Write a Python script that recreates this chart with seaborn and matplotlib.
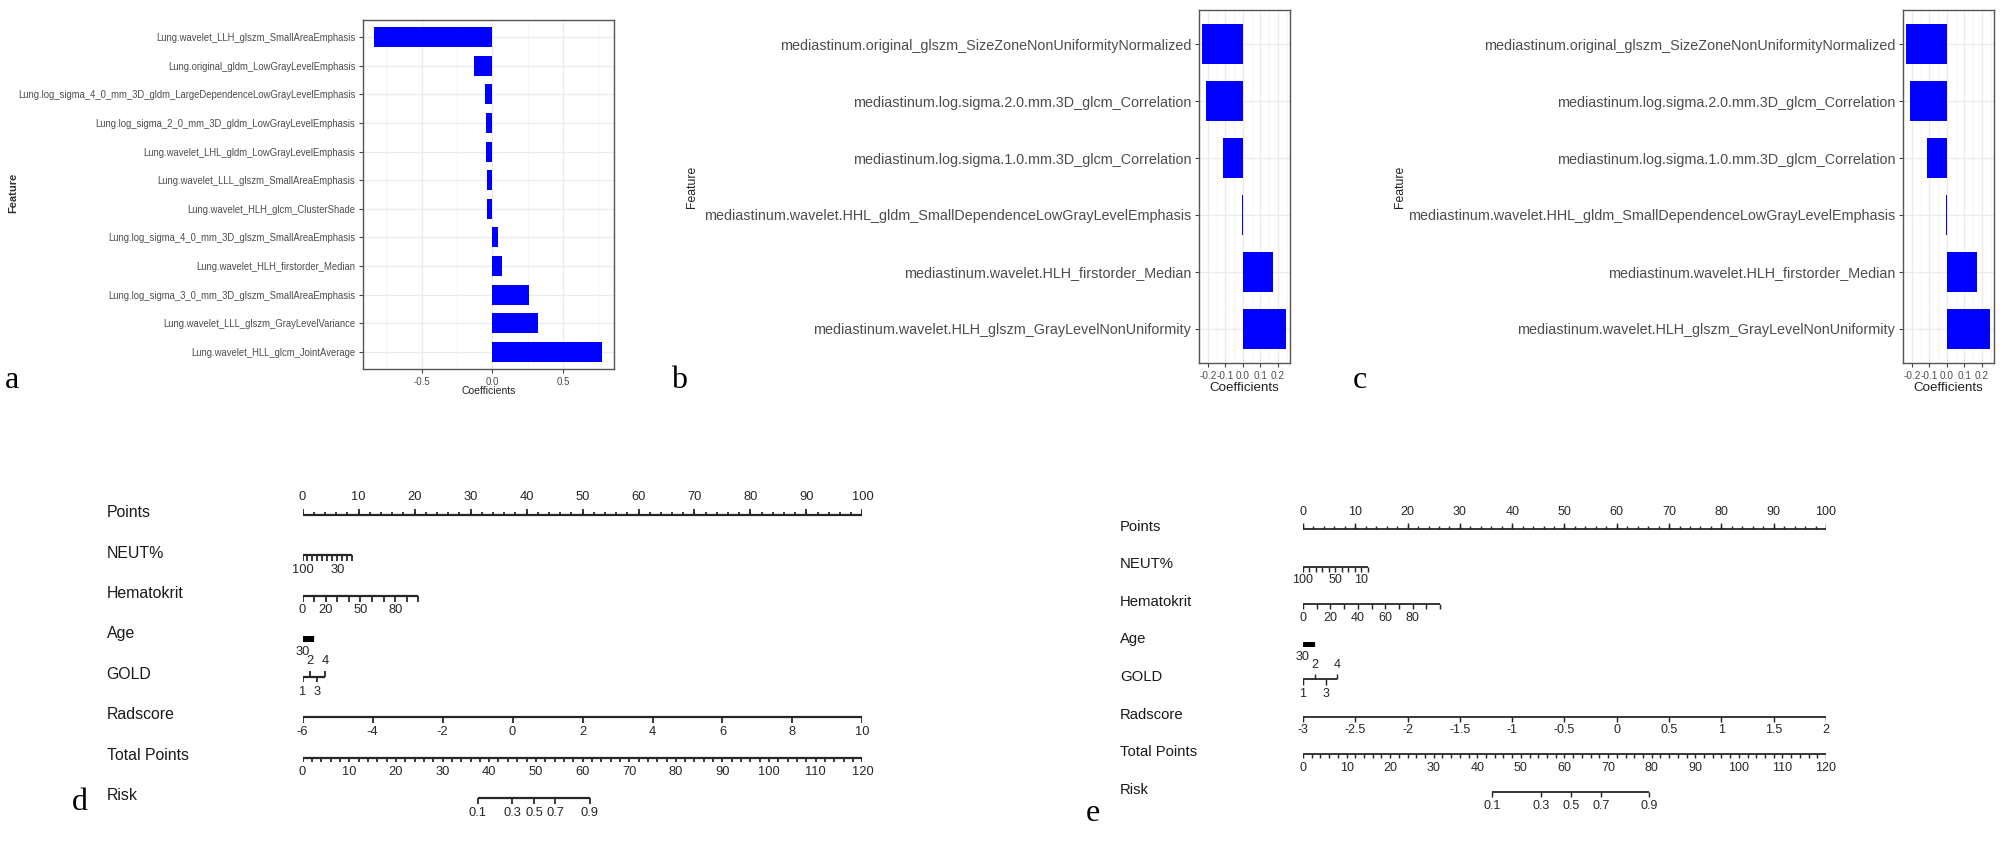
import numpy as np
import matplotlib
matplotlib.use("Agg")
import matplotlib.pyplot as plt
import matplotlib.transforms as mtrans
from matplotlib.ticker import FixedLocator
from matplotlib import font_manager
import seaborn as sns

# ---------------- panel a : lung features ----------------
lung_features = [
    "Lung.wavelet_LLH_glszm_SmallAreaEmphasis",
    "Lung.original_gldm_LowGrayLevelEmphasis",
    "Lung.log_sigma_4_0_mm_3D_gldm_LargeDependenceLowGrayLevelEmphasis",
    "Lung.log_sigma_2_0_mm_3D_gldm_LowGrayLevelEmphasis",
    "Lung.wavelet_LHL_gldm_LowGrayLevelEmphasis",
    "Lung.wavelet_LLL_glszm_SmallAreaEmphasis",
    "Lung.wavelet_HLH_glcm_ClusterShade",
    "Lung.log_sigma_4_0_mm_3D_glszm_SmallAreaEmphasis",
    "Lung.wavelet_HLH_firstorder_Median",
    "Lung.log_sigma_3_0_mm_3D_glszm_SmallAreaEmphasis",
    "Lung.wavelet_LLL_glszm_GrayLevelVariance",
    "Lung.wavelet_HLL_glcm_JointAverage",
]
lung_coef = [-0.84, -0.13, -0.052, -0.047, -0.043, -0.041, -0.038,
             0.042, 0.066, 0.259, 0.32, 0.778]

# ---------------- panels b / c : mediastinum features ----------------
med_features = [
    "mediastinum.original_glszm_SizeZoneNonUniformityNormalized",
    "mediastinum.log.sigma.2.0.mm.3D_glcm_Correlation",
    "mediastinum.log.sigma.1.0.mm.3D_glcm_Correlation",
    "mediastinum.wavelet.HHL_gldm_SmallDependenceLowGrayLevelEmphasis",
    "mediastinum.wavelet.HLH_firstorder_Median",
    "mediastinum.wavelet.HLH_glszm_GrayLevelNonUniformity",
]
med_coef = [-0.235, -0.21, -0.115, -0.005, 0.173, 0.246]

# ---------------- nomogram d ----------------
d_neut_ticks = [100, 90, 80, 70, 60, 50, 40, 30, 20, 10, 0]
d_neut_labels = [100, 30]
d_neut_pts = (0, 8.9)          # points at NEUT% 100 and 0
d_hema_ticks = [0, 10, 20, 30, 40, 50, 60, 70, 80, 90, 100]
d_hema_labels = [0, 20, 50, 80]
d_hema_pts = (0, 20.7)
d_age_ticks = [30, 35, 40, 45, 50, 55, 60, 65, 70, 75, 80, 85, 90]
d_age_labels = [30]
d_age_pts = (0, 1.8)
d_gold_levels = [1, 2, 3, 4]
d_gold_pts = [0, 1.3, 2.6, 4.0]
d_rad_ticks = [-6, -4, -2, 0, 2, 4, 6, 8, 10]
d_risk = [0.1, 0.3, 0.5, 0.7, 0.9]
d_risk_total = [37.6, 44.9, 49.6, 54.2, 61.6]

# ---------------- nomogram e ----------------
e_neut_ticks = [100, 90, 80, 70, 60, 50, 40, 30, 20, 10, 0]
e_neut_labels = [100, 50, 10]
e_neut_pts = (0, 12.4)
e_hema_ticks = [0, 10, 20, 30, 40, 50, 60, 70, 80, 90, 100]
e_hema_labels = [0, 20, 40, 60, 80]
e_hema_pts = (0, 26.2)
e_age_ticks = [30, 35, 40, 45, 50, 55, 60, 65, 70, 75, 80, 85, 90]
e_age_labels = [30]
e_age_pts = (0, 2.1)
e_gold_levels = [1, 2, 3, 4]
e_gold_pts = [0, 2.3, 4.4, 6.5]
e_rad_ticks = [-3, -2.5, -2, -1.5, -1, -0.5, 0, 0.5, 1, 1.5, 2]
e_risk = [0.1, 0.3, 0.5, 0.7, 0.9]
e_risk_total = [43.4, 54.6, 61.5, 68.4, 79.4]

points_max = 100
total_max = 120
row_names = ["Points", "NEUT%", "Hematokrit", "Age", "GOLD", "Radscore",
             "Total Points", "Risk"]

sns.set_theme(style="white")
plt.rcParams["font.family"] = ["Liberation Sans", "DejaVu Sans"]

W, H = 2008, 843
fig = plt.figure(figsize=(W / 100, H / 100), dpi=100)
fig.patch.set_facecolor("white")


def px_axes(l, t, r, b):
    return fig.add_axes([l / W, 1 - b / H, (r - l) / W, (b - t) / H])


installed = {f.name for f in font_manager.fontManager.ttflist}
if "Liberation Sans Narrow" in installed:
    narrow, narrow_fs = "Liberation Sans Narrow", 8.4
else:
    narrow, narrow_fs = "Liberation Sans", 6.85


def coef_panel(ax, feats, coefs, xlim, major, minor, lab_fs, lab_family, tick_fs):
    sns.barplot(x=coefs, y=feats, orient="h", color="#0000FF", saturation=1,
                width=0.7, linewidth=0, ax=ax)
    ax.set_xlim(*xlim)
    ax.set_ylim(len(feats) - 1 + 0.6, -0.6)
    ax.xaxis.set_major_locator(FixedLocator(major))
    ax.xaxis.set_minor_locator(FixedLocator(minor))
    ax.set_xticklabels([f"{m:.1f}" for m in major])
    ax.set_xlabel("")
    ax.set_ylabel("")
    ax.set_axisbelow(True)
    ax.grid(True, which="major", color="#EBEBEB", lw=0.9)
    ax.grid(True, which="minor", axis="x", color="#F4F4F4", lw=0.6)
    for s in ax.spines.values():
        s.set_color("#555555")
        s.set_linewidth(1.0)
        s.set_visible(True)
    ax.tick_params(axis="both", which="major", length=3, width=0.8,
                   color="#444444", labelcolor="#4D4D4D", pad=2.5,
                   bottom=True, left=True)
    ax.tick_params(axis="x", which="major", labelsize=tick_fs)
    ax.tick_params(axis="x", which="minor", length=0)
    for t in ax.get_yticklabels():
        t.set_fontsize(lab_fs)
        t.set_family(lab_family)


# panel a
ax_a = px_axes(363, 20, 614, 369)
coef_panel(ax_a, lung_features, lung_coef, (-0.915, 0.86),
           [-0.5, 0.0, 0.5], [-0.75, -0.25, 0.25, 0.75],
           narrow_fs, narrow, 7)
fig.text(13 / W, 1 - 193 / H, "Feature", rotation=90, ha="center", va="center",
         fontsize=8, color="#333333", fontweight="bold")
fig.text(489 / W, 1 - 391 / H, "Coefficients", ha="center", va="center",
         fontsize=7.5, color="#222222")

# panels b and c
for (l, r), fx, cx in [((1199, 1290), 692, 1244), ((1903, 1994), 1400, 1948)]:
    ax = px_axes(l, 10, r, 363)
    coef_panel(ax, med_features, med_coef, (-0.251, 0.269),
               [-0.2, -0.1, 0.0, 0.1, 0.2], [-0.25, -0.15, -0.05, 0.05, 0.15, 0.25],
               10.4, "Liberation Sans", 7.2)
    fig.text(fx / W, 1 - 187 / H, "Feature", rotation=90, ha="center", va="center",
             fontsize=8.8, color="#222222")
    fig.text(cx / W, 1 - 388 / H, "Coefficients", ha="center", va="center",
             fontsize=9.6, color="#222222")

# ---------------- nomograms ----------------
INK = "#262626"


def to_pts(vals, v_range, p_range):
    v = np.asarray(vals, dtype=float)
    return p_range[0] + (v - v_range[0]) / (v_range[1] - v_range[0]) * (p_range[1] - p_range[0])


def scale_row(ax, row, pos, lab_pos, lab_txt, fs, lw, tick=0.14, off=0.36):
    ax.plot([min(pos), max(pos)], [row, row], color=INK, lw=lw, solid_capstyle="butt")
    ax.vlines(pos, row, row + tick, color=INK, lw=lw * 0.8)
    for p, t in zip(lab_pos, lab_txt):
        ax.text(p, row + off, t, ha="center", va="center", fontsize=fs, color=INK)


def nomogram(ax, neut, hema, age, gold_lv, gold_pts, rad_ticks, risk, risk_total,
             lab_fs, tick_fs, lw):
    neut_ticks, neut_labels, neut_pts = neut
    hema_ticks, hema_labels, hema_pts = hema
    age_ticks, age_labels, age_pts = age
    ax.set_xlim(0, points_max)
    ax.set_ylim(7.5, -0.5)
    ax.axis("off")
    lab_tr = mtrans.blended_transform_factory(ax.transAxes, ax.transData)
    for i, name in enumerate(row_names):
        ax.text(-0.35, i - 0.06, name, transform=lab_tr, ha="left", va="center",
                fontsize=lab_fs, color="#1a1a1a")

    # Points (ticks upward, labels above)
    pts_minor = np.arange(0, points_max + 1, 2)
    pts_major = np.arange(0, points_max + 1, 10)
    ax.plot([0, points_max], [0, 0], color=INK, lw=lw, solid_capstyle="butt")
    ax.vlines(pts_minor, 0, -0.08, color=INK, lw=lw * 0.8)
    ax.vlines(pts_major, 0, -0.16, color=INK, lw=lw * 0.8)
    for p in pts_major:
        ax.text(p, -0.44, f"{p:d}", ha="center", va="center", fontsize=tick_fs, color=INK)

    # NEUT%
    p = to_pts(neut_ticks, (100, 0), neut_pts)
    scale_row(ax, 1, p, to_pts(neut_labels, (100, 0), neut_pts),
              [str(v) for v in neut_labels], tick_fs, lw)
    # Hematokrit
    p = to_pts(hema_ticks, (0, 100), hema_pts)
    scale_row(ax, 2, p, to_pts(hema_labels, (0, 100), hema_pts),
              [str(v) for v in hema_labels], tick_fs, lw)
    # Age (dense ticks form a block)
    p = to_pts(age_ticks, (age_ticks[0], age_ticks[-1]), age_pts)
    ax.vlines(p, 3, 3 + 0.15, color="black", lw=1.6)
    for v in age_labels:
        ax.text(to_pts([v], (age_ticks[0], age_ticks[-1]), age_pts)[0], 3 + 0.4, str(v),
                ha="center", va="center", fontsize=tick_fs, color=INK)
    # GOLD: odd levels below, even above
    ax.plot([gold_pts[0], gold_pts[-1]], [4, 4], color=INK, lw=lw, solid_capstyle="butt")
    for lv, gp in zip(gold_lv, gold_pts):
        s = 1 if lv % 2 else -1
        ax.vlines(gp, 4, 4 + s * 0.14, color=INK, lw=lw * 0.8)
        ax.text(gp, 4 + s * 0.38, str(lv), ha="center", va="center",
                fontsize=tick_fs, color=INK)
    # Radscore
    p = to_pts(rad_ticks, (rad_ticks[0], rad_ticks[-1]), (0, points_max))
    scale_row(ax, 5, p, p, [f"{v:g}" for v in rad_ticks], tick_fs, lw)
    # Total points
    tot_ticks = np.arange(0, total_max + 1, 2)
    tot_labels = np.arange(0, total_max + 1, 10)
    scale_row(ax, 6, tot_ticks * points_max / total_max,
              tot_labels * points_max / total_max,
              [str(v) for v in tot_labels], tick_fs, lw, tick=0.1)
    # Risk
    rp = np.asarray(risk_total) * points_max / total_max
    scale_row(ax, 7, rp, rp, [f"{v:g}" for v in risk], tick_fs, lw)


ax_d = px_axes(302.5, 494.8, 862.5, 818.2)
nomogram(ax_d, (d_neut_ticks, d_neut_labels, d_neut_pts),
         (d_hema_ticks, d_hema_labels, d_hema_pts),
         (d_age_ticks, d_age_labels, d_age_pts),
         d_gold_levels, d_gold_pts, d_rad_ticks, d_risk, d_risk_total,
         11.4, 9.3, 1.6)

ax_e = px_axes(1303, 510.2, 1826, 810.8)
nomogram(ax_e, (e_neut_ticks, e_neut_labels, e_neut_pts),
         (e_hema_ticks, e_hema_labels, e_hema_pts),
         (e_age_ticks, e_age_labels, e_age_pts),
         e_gold_levels, e_gold_pts, e_rad_ticks, e_risk, e_risk_total,
         10.7, 9.0, 1.3)

# panel letters
for txt, x, y in [("a", 12, 388), ("b", 679, 388), ("c", 1360, 388),
                  ("d", 80, 810), ("e", 1093, 821)]:
    fig.text(x / W, 1 - y / H, txt, ha="center", va="baseline", fontsize=23,
             family=["Liberation Serif", "DejaVu Serif"], color="black")

fig.savefig("out.png", dpi=100, facecolor="white")
